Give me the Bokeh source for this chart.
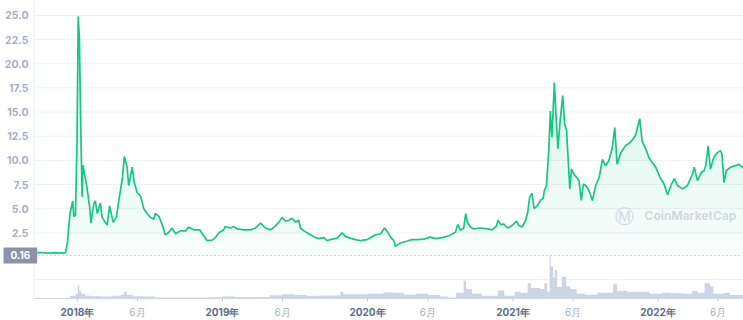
import pandas as pd
import numpy as np
from bokeh.plotting import figure
from bokeh.models import Range1d, Label
from bokeh.core.properties import value
from bokeh.embed import file_html
from bokeh.resources import INLINE

price_dates = [
    "2017-09-15", "2017-09-30", "2017-10-20", "2017-11-07", "2017-11-24", "2017-12-02",
    "2017-12-07", "2017-12-11", "2017-12-14", "2017-12-20", "2017-12-23", "2017-12-27",
    "2017-12-31", "2018-01-03", "2018-01-06", "2018-01-09", "2018-01-13", "2018-01-15",
    "2018-01-19", "2018-01-25", "2018-02-01", "2018-02-04", "2018-02-11", "2018-02-15",
    "2018-02-20", "2018-02-28", "2018-03-04", "2018-03-12", "2018-03-17", "2018-03-23",
    "2018-03-27", "2018-04-01", "2018-04-09", "2018-04-15", "2018-04-24", "2018-04-29",
    "2018-05-06", "2018-05-10", "2018-05-19", "2018-05-24", "2018-05-31", "2018-06-09",
    "2018-06-17", "2018-06-25", "2018-07-04", "2018-07-12", "2018-07-16", "2018-07-25",
    "2018-07-29", "2018-08-05", "2018-08-10", "2018-08-18", "2018-08-27", "2018-09-05",
    "2018-09-17", "2018-09-30", "2018-10-08", "2018-10-21", "2018-11-05", "2018-11-15",
    "2018-11-23", "2018-12-06", "2018-12-14", "2018-12-23", "2019-01-04", "2019-01-08",
    "2019-01-21", "2019-01-29", "2019-02-07", "2019-02-24", "2019-03-12", "2019-03-25",
    "2019-04-07", "2019-04-19", "2019-05-02", "2019-05-14", "2019-05-23", "2019-05-31",
    "2019-06-09", "2019-06-17", "2019-06-25", "2019-07-04", "2019-07-12", "2019-07-16",
    "2019-07-25", "2019-08-06", "2019-08-19", "2019-08-31", "2019-09-13", "2019-09-21",
    "2019-10-04", "2019-10-17", "2019-10-29", "2019-11-07", "2019-11-19", "2019-12-02",
    "2019-12-14", "2019-12-31", "2020-01-13", "2020-01-21", "2020-02-03", "2020-02-13",
    "2020-02-21", "2020-02-28", "2020-03-07", "2020-03-11", "2020-03-24", "2020-04-10",
    "2020-04-22", "2020-05-05", "2020-05-22", "2020-06-07", "2020-06-20", "2020-07-07",
    "2020-07-24", "2020-08-09", "2020-08-15", "2020-08-22", "2020-08-30", "2020-09-04",
    "2020-09-08", "2020-09-16", "2020-09-24", "2020-10-11", "2020-10-28", "2020-11-10",
    "2020-11-21", "2020-11-24", "2020-12-01", "2020-12-09", "2020-12-18", "2020-12-26",
    "2021-01-05", "2021-01-10", "2021-01-16", "2021-01-24", "2021-02-02", "2021-02-07",
    "2021-02-12", "2021-02-18", "2021-02-23", "2021-03-03", "2021-03-11", "2021-03-18",
    "2021-03-21", "2021-03-26", "2021-04-01", "2021-04-05", "2021-04-09", "2021-04-15",
    "2021-04-20", "2021-04-24", "2021-04-29", "2021-05-06", "2021-05-11", "2021-05-16",
    "2021-05-19", "2021-05-24", "2021-05-28", "2021-06-03", "2021-06-10", "2021-06-16",
    "2021-06-22", "2021-06-27", "2021-07-03", "2021-07-11", "2021-07-20", "2021-07-28",
    "2021-08-06", "2021-08-14", "2021-08-22", "2021-08-30", "2021-09-08", "2021-09-14",
    "2021-09-20", "2021-09-29", "2021-10-11", "2021-10-24", "2021-11-05", "2021-11-16",
    "2021-11-22", "2021-12-01", "2021-12-09", "2021-12-17", "2021-12-26", "2022-01-06",
    "2022-01-16", "2022-01-25", "2022-02-04", "2022-02-11", "2022-02-19", "2022-03-04",
    "2022-03-16", "2022-03-29", "2022-04-02", "2022-04-10", "2022-04-20", "2022-04-27",
    "2022-05-01", "2022-05-07", "2022-05-13", "2022-05-21", "2022-05-30", "2022-06-07",
    "2022-06-11", "2022-06-16", "2022-06-22", "2022-07-03", "2022-07-15", "2022-07-23",
    "2022-08-01", "2022-08-04",
]
price_values = [
    0.42, 0.46, 0.40, 0.45, 0.40, 0.44,
    1.5, 3.5, 4.6, 5.8, 4.2, 4.3,
    12.0, 24.9, 22.6, 14.4, 6.2, 9.5,
    8.6, 7.2, 5.1, 3.5, 5.5, 5.8,
    4.5, 5.6, 4.1, 3.6, 3.3, 5.3,
    4.5, 3.6, 4.1, 5.8, 8.1, 10.4,
    9.3, 7.4, 9.3, 7.7, 6.7, 6.3,
    5.0, 4.5, 4.1, 3.9, 4.5, 4.2,
    3.8, 3.0, 2.3, 2.5, 3.0, 2.4,
    2.7, 2.7, 3.1, 2.8, 2.8, 2.2,
    1.7, 1.75, 2.0, 2.5, 2.8, 3.15,
    3.0, 3.15, 2.9, 2.8, 2.8, 3.0,
    3.5, 3.0, 2.8, 3.2, 3.6, 4.1,
    3.7, 3.8, 4.0, 3.6, 3.8, 3.0,
    2.7, 2.4, 2.1, 1.9, 2.0, 1.7,
    1.85, 1.95, 2.5, 2.1, 1.95, 1.8,
    1.7, 1.8, 2.1, 2.3, 2.4, 3.0,
    2.55, 2.05, 1.7, 1.1, 1.45, 1.65,
    1.8, 1.8, 1.85, 2.05, 1.9, 2.0,
    2.2, 2.55, 3.35, 2.75, 3.0, 4.5,
    3.6, 3.1, 2.9, 3.0, 2.9, 2.8,
    3.25, 3.8, 3.35, 3.4, 3.0, 3.15,
    3.5, 3.7, 3.25, 3.1, 3.8, 4.6,
    6.2, 6.6, 5.0, 5.3, 5.85, 6.1,
    6.9, 7.3, 11.0, 15.1, 12.4, 18.06,
    14.1, 11.2, 13.8, 16.7, 13.8, 13.1,
    10.7, 7.05, 9.1, 8.6, 8.25, 7.9,
    5.85, 7.55, 7.4, 6.9, 5.85, 7.4,
    8.25, 10.1, 9.45, 9.95, 11.3, 13.4,
    9.6, 10.8, 11.5, 11.9, 12.55, 14.3,
    12.0, 11.2, 10.3, 9.8, 9.3, 8.25,
    7.55, 6.45, 7.55, 8.1, 7.4, 7.05,
    7.4, 8.6, 9.3, 7.9, 8.75, 8.95,
    9.45, 11.5, 9.1, 10.3, 10.8, 11.0,
    10.65, 7.7, 8.95, 9.3, 9.45, 9.6,
    9.3, 9.2,
]

volume_dates = [
    "2017-09-15", "2017-11-01", "2017-12-05", "2017-12-15", "2017-12-28", "2018-01-02",
    "2018-01-06", "2018-01-10", "2018-01-20", "2018-02-05", "2018-03-01", "2018-04-01",
    "2018-04-20", "2018-04-28", "2018-05-05", "2018-05-20", "2018-06-15", "2018-07-15",
    "2018-09-01", "2018-12-01", "2019-01-01", "2019-02-01", "2019-04-01", "2019-05-01",
    "2019-06-01", "2019-07-01", "2019-08-01", "2019-09-01", "2019-10-25", "2019-11-01",
    "2019-12-01", "2020-01-01", "2020-02-10", "2020-03-12", "2020-04-01", "2020-05-01",
    "2020-06-01", "2020-07-01", "2020-07-20", "2020-08-10", "2020-08-30", "2020-09-05",
    "2020-09-20", "2020-10-15", "2020-11-24", "2020-12-10", "2021-01-05", "2021-01-20",
    "2021-02-07", "2021-02-15", "2021-03-10", "2021-03-21", "2021-03-28", "2021-04-03",
    "2021-04-06", "2021-04-12", "2021-04-16", "2021-04-22", "2021-05-04", "2021-05-15",
    "2021-05-25", "2021-06-10", "2021-07-01", "2021-08-01", "2021-09-10", "2021-09-20",
    "2021-10-15", "2021-11-15", "2021-12-10", "2022-01-10", "2022-02-01", "2022-03-01",
    "2022-03-28", "2022-04-10", "2022-04-28", "2022-05-12", "2022-05-20", "2022-06-15",
    "2022-07-01", "2022-08-04",
]
volume_values = [
    0.02, 0.03, 0.05, 0.15, 0.25, 0.68,
    0.40, 0.25, 0.15, 0.12, 0.10, 0.15,
    0.20, 0.35, 0.20, 0.12, 0.10, 0.05,
    0.05, 0.06, 0.10, 0.06, 0.08, 0.17,
    0.22, 0.18, 0.15, 0.16, 0.35, 0.22,
    0.22, 0.25, 0.32, 0.30, 0.20, 0.25,
    0.18, 0.10, 0.05, 0.30, 0.95, 0.50,
    0.25, 0.15, 0.42, 0.15, 0.35, 0.30,
    0.80, 0.55, 0.50, 0.80, 0.35, 2.26,
    1.70, 1.10, 1.50, 0.60, 1.15, 0.65,
    0.50, 0.25, 0.20, 0.30, 0.75, 0.40,
    0.35, 0.35, 0.25, 0.30, 0.28, 0.25,
    0.40, 0.30, 0.80, 0.65, 0.25, 0.30,
    0.18, 0.15,
]

year_ticks = ["2018-01-01", "2019-01-01", "2020-01-01", "2021-01-01", "2022-01-01"]
year_labels = ["2018年", "2019年", "2020年", "2021年", "2022年"]
month_ticks = ["2018-06-01", "2019-06-01", "2020-06-01", "2021-06-01", "2022-06-01"]
month_labels = ["6月", "6月", "6月", "6月", "6月"]
price_ticks = [2.5, 5.0, 7.5, 10.0, 12.5, 15.0, 17.5, 20.0, 22.5, 25.0]
price_tick_labels = ["2.5", "5.0", "7.5", "10.0", "12.5", "15.0", "17.5", "20.0", "22.5", "25.0"]
start_price = 0.16
start_label = "0.16"
watermark = "CoinMarketCap"

GREEN = "#16c784"
GRID = "#eff2f5"
LABEL_GREY = "#a6b0c3"
DARK_GREY = "#616e85"

# ---- layout geometry (plot area inside a full-canvas frame) ----
W, H = 743, 320
LEFT, BOTTOM = 34, 298          # plot area: x from LEFT to W, y from 0 to BOTTOM
t0 = pd.Timestamp("2017-09-15")
t1 = pd.Timestamp("2022-08-04")
p_top, p_bot = 26.55, -4.30     # price range spanning plot area height
v_top = 15.68                    # volume range top (volume 0 at plot bottom)

ms_per_px = (t1 - t0) / (W - LEFT)
x_start = t0 - ms_per_px * LEFT
price_per_px = (p_top - p_bot) / BOTTOM
y_bottom = p_top - price_per_px * H
vol_per_px = v_top / BOTTOM
v_bottom = -vol_per_px * (H - BOTTOM)


def price_at_px(py_):
    return p_top - price_per_px * py_


px = pd.to_datetime(price_dates)
py = np.array(price_values)
vx = pd.to_datetime(volume_dates)
vy = np.array(volume_values)

p = figure(
    width=W, height=H, x_axis_type="datetime",
    x_range=Range1d(x_start, t1), y_range=Range1d(y_bottom, p_top),
    x_axis_location=None, y_axis_location=None,
    output_backend="svg", toolbar_location=None,
    min_border=0, min_border_left=0, min_border_right=0,
    min_border_top=0, min_border_bottom=0,
)
p.extra_y_ranges = {"vol": Range1d(v_bottom, v_top)}
p.outline_line_color = None
p.background_fill_color = "white"
p.border_fill_color = "white"
p.xgrid.grid_line_color = None
p.ygrid.grid_line_color = None

# grid lines (plot area only)
n = len(price_ticks)
p.segment(x0=[t0] * n, x1=[t1] * n, y0=price_ticks, y1=price_ticks,
          line_color=GRID, line_width=1)
p.segment(x0=[t0], x1=[t1], y0=[1.0], y1=[1.0], line_color=GRID, line_width=1,
          y_range_name="vol")

# gradient-like fill under the price line
p.varea(x=px, y1=np.minimum(py, start_price), y2=py, fill_color=GREEN, fill_alpha=0.025)
for lvl in np.arange(0, 26, 2.5):
    p.varea(x=px, y1=np.maximum(np.minimum(py, lvl), start_price), y2=py,
            fill_color=GREEN, fill_alpha=0.016)

# volume
p.varea_step(x=vx, y1=0, y2=vy, step_mode="after", fill_color="#cdd4e2",
             fill_alpha=1.0, y_range_name="vol")

# start price dotted line
p.segment(x0=[t0], x1=[t1], y0=[start_price], y1=[start_price], line_color="#a1a7bb",
          line_width=1, line_dash="1 3")

# price line
p.line(px, py, line_color=GREEN, line_width=1.7)

# axis lines
p.segment(x0=[t0], x1=[t1], y0=[0], y1=[0], line_color="#cfd6e4", line_width=1,
          y_range_name="vol")
p.segment(x0=[t0], x1=[t0], y0=[p_bot], y1=[p_top], line_color="#eef1f5", line_width=1)

# x ticks
tick_dates = pd.to_datetime(year_ticks + month_ticks)
p.segment(x0=tick_dates, x1=tick_dates, y0=[0] * len(tick_dates),
          y1=[-3 * vol_per_px] * len(tick_dates), line_color="#c5ccd9", line_width=1,
          y_range_name="vol")

# x tick labels
lab_y = price_at_px(311)
p.text(x=pd.to_datetime(year_ticks), y=[lab_y] * len(year_ticks), text=year_labels,
       text_align="center", text_baseline="middle", text_color=DARK_GREY,
       text_font=value("Inter"), text_font_size="10px", text_font_style="bold")
p.text(x=pd.to_datetime(month_ticks), y=[lab_y] * len(month_ticks), text=month_labels,
       text_align="center", text_baseline="middle", text_color=LABEL_GREY,
       text_font=value("Inter"), text_font_size="10px")

# y tick labels
p.text(x=[t0 - ms_per_px * 6] * n, y=price_ticks, text=price_tick_labels,
       text_align="right", text_baseline="middle", text_color=LABEL_GREY,
       text_font=value("Inter"), text_font_size="10.5px", text_font_style="bold")

# start price badge
p.add_layout(Label(x=3, x_units="screen", y=start_price, text=start_label,
                   text_align="left", text_baseline="middle", text_color="white",
                   text_font="Inter", text_font_size="10px", text_font_style="bold",
                   background_fill_color="#8d93a5",
                   padding=dict(left=7, right=7, top=4, bottom=4)))

# watermark
p.add_layout(Label(x=614, y=H - 215, x_units="screen", y_units="screen", text="Ⓜ",
                   text_align="left", text_baseline="middle", text_color="#d3d8e1",
                   text_font="DejaVu Sans", text_font_size="19px"))
p.add_layout(Label(x=644, y=H - 215, x_units="screen", y_units="screen", text=watermark,
                   text_align="left", text_baseline="middle", text_color="#d3d8e1",
                   text_font="Inter", text_font_size="12px", text_font_style="bold"))

open("out.html", "w").write(file_html(p, INLINE))
